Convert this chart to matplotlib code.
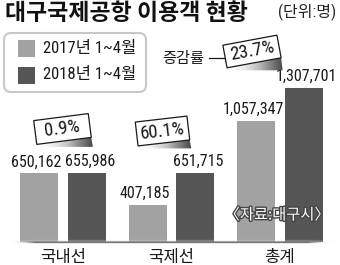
import numpy as np
import matplotlib.pyplot as plt
from matplotlib.patches import Polygon, FancyBboxPatch, Rectangle
import matplotlib.patheffects as pe

# data
categories = ['국내선', '국제선', '총계']
y2017 = [650162, 407185, 1057347]
y2018 = [655986, 651715, 1307701]
series_names = ['2017년 1~4월', '2018년 1~4월']

light = '#a2a2a2'
dark = '#565656'
NUM = ['Roboto Condensed', 'Noto Sans CJK KR']
KR = ['Noto Sans CJK KR', 'DejaVu Sans']

fig = plt.figure(figsize=(3.4, 2.65), dpi=100)

# chart axes cover the whole figure, axis starts at ~123k like the print graphic
base = 123000
ax = fig.add_axes([0, 0, 1, 1])
ax.set_xlim(-0.5806, 2.553)
ax.set_ylim(-53900, 1984464)
ax.axis('off')

x = np.arange(len(categories))
w = 0.35
off = 0.221
ax.bar(x - off, np.array(y2017) - base, w, bottom=base, color=light, zorder=2)
ax.bar(x + off, np.array(y2018) - base, w, bottom=base, color=dark, zorder=2)

for xs, vals, nudge in [(x - off, y2017, -2), (x + off, y2018, 2)]:
    for xi, v in zip(xs, vals):
        ax.annotate(f'{v:,}', (xi, v), xytext=(nudge, 5), textcoords='offset points',
                    ha='center', va='baseline', fontsize=11.5, family=NUM, color='#1a1a1a')

for xi, c in zip(x, categories):
    ax.annotate(c, (xi, base), xytext=(0, -11), textcoords='offset points',
                ha='center', va='center', fontsize=12, family=KR, color='#1a1a1a')

# overlay in pixel coordinates for the decorations
ov = fig.add_axes([0, 0, 1, 1])
ov.set_xlim(0, 340)
ov.set_ylim(265, 0)
ov.axis('off')
ov.patch.set_alpha(0)

# baseline shadow
prof_y = np.exp(-((np.arange(10) - 3.5) / 1.8) ** 2)
u = np.linspace(0, 1, 200)
prof_x = np.clip(np.minimum(u / 0.08, (1 - u) / 0.08), 0, 1)
shade = prof_y[:, None] * prof_x[None, :]
ov.imshow(shade, cmap='Greys', vmin=0, vmax=1.4, extent=(8, 335, 247, 239),
          aspect='auto', alpha=shade, zorder=1)

# title
ov.text(5, 14, '대구국제공항 이용객 현황', fontsize=16.5, fontweight='black', family=KR,
        va='center', ha='left', color='#111111')
ov.text(336, 12, '(단위:명)', fontsize=11.5, family=NUM, va='center', ha='right', color='#222222')

# legend box
ov.add_patch(FancyBboxPatch((4, 33), 142, 59, boxstyle='round,pad=0,rounding_size=7',
                            fc='white', ec='#c8c8c8', lw=1.5, zorder=3))
for yy, col, name in [(48.5, light, series_names[0]), (75, dark, series_names[1])]:
    ov.add_patch(Rectangle((18, yy - 8.5), 17, 17, fc=col, ec='none', zorder=4))
    ov.text(43, yy, name, fontsize=12, family=NUM, va='center', ha='left',
            color='#1a1a1a', zorder=4)


def tag(cx, cy, bw, bh, ang, label):
    t = np.radians(ang)
    pts = []
    for dx, dy in [(-bw / 2, bh / 2), (bw / 2, bh / 2), (bw / 2, -bh / 2), (-bw / 2, -bh / 2)]:
        xr = dx * np.cos(t) - dy * np.sin(t)
        yr = dx * np.sin(t) + dy * np.cos(t)
        pts.append((cx + xr, cy - yr))
    bl, br = pts[3], pts[2]
    wedge = Polygon([bl, br, (br[0] + 1.5, bl[1] + 2.5), (bl[0] + 2, bl[1] + 2.5)],
                    closed=True, fc='none', ec='none')
    ov.add_patch(wedge)
    grad = np.linspace(0, 1, 60)[None, :] ** 1.3
    im = ov.imshow(grad, cmap='Greys', vmin=0, vmax=1.25, aspect='auto',
                   extent=(bl[0], br[0] + 2, bl[1] + 3, br[1] - 1), zorder=4)
    im.set_clip_path(wedge)
    ov.add_patch(Polygon(pts, closed=True, fc='white', ec='#1a1a1a', lw=0.9, zorder=5))
    ov.text(cx, cy, label, rotation=ang, rotation_mode='anchor', ha='center', va='center',
            fontsize=13.5, family=NUM, color='#1a1a1a', zorder=6)


rates = [(b / a - 1) * 100 for a, b in zip(y2017, y2018)]
tag(62.5, 129, 55, 24, 7.3, f'{rates[0]:.1f}%')
tag(162.5, 131, 52, 24, 6.6, f'{rates[1]:.1f}%')
tag(252, 51.5, 55, 23, 10.5, f'{rates[2]:.1f}%')

ov.text(162, 58, '증감률', fontsize=11, family=KR, va='center', ha='left', color='#1a1a1a')
ov.plot([209, 226], [57.5, 57.5], color='#1a1a1a', lw=0.9, zorder=4)

ov.text(277, 215, '〈자료:대구시〉', fontsize=11, family=KR, va='center', ha='center',
        color='white', zorder=6,
        path_effects=[pe.Stroke(linewidth=2, foreground='#444444'), pe.Normal()])

fig.savefig('out.png', dpi=100)
